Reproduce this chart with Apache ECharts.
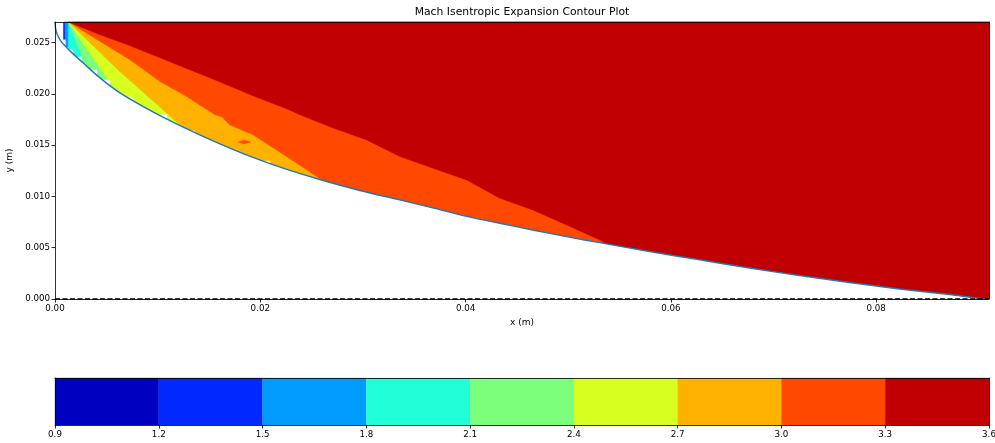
<!DOCTYPE html>
<html>
<head>
<meta charset="utf-8">
<script src="https://cdn.jsdelivr.net/npm/echarts@6/dist/echarts.min.js"></script>
<style>
  html, body { margin: 0; padding: 0; background: #fff; }
  #chart { width: 995px; height: 443px; }
</style>
</head>
<body>
<div id="chart"></div>
<script>
// Mach number contour levels and their fill colours (jet, 9 bands)
const levels = [0.9, 1.2, 1.5, 1.8, 2.1, 2.4, 2.7, 3.0, 3.3, 3.6];
const levelColors = ['#0000c0', '#0028ff', '#009cff', '#20ffd7', '#7bff7b', '#d7ff20', '#ffb100', '#ff4800', '#c00000'];

// Plot extents (m)
const xMax = 0.0910;
const yMax = 0.0270;
const xTicks = [0, 0.02, 0.04, 0.06, 0.08];
const yTicks = [0, 0.005, 0.010, 0.015, 0.020, 0.025];

// Expansion wall contour (x, y) in metres
const wall = [
  [0, 0.0270], [0.00005, 0.02643], [0.00019, 0.02585], [0.00049, 0.02526], [0.00097, 0.02468],
  [0.00166, 0.02399], [0.00273, 0.02302], [0.00438, 0.02155], [0.00633, 0.02009], [0.00954, 0.01824],
  [0.01285, 0.01658], [0.01607, 0.01512], [0.01928, 0.01380], [0.02259, 0.01263], [0.02580, 0.01165],
  [0.02970, 0.01058], [0.03359, 0.00966], [0.03681, 0.00888], [0.04012, 0.00805], [0.04333, 0.00738],
  [0.04654, 0.00673], [0.04985, 0.00608], [0.05307, 0.00549], [0.05794, 0.00463], [0.06281, 0.00382],
  [0.06768, 0.00302], [0.07254, 0.00229], [0.07741, 0.00161], [0.08228, 0.00098], [0.08715, 0.00044],
  [0.09056, 0]
];

// Lower edge of the region where M >= level (expansion fan from the corner)
const edgeM12 = [[0.00081, 0.0270], [0.00081, 0]];
const edgeM15 = [[0.00097, 0.0270], [0.00097, 0]];
const edgeM18 = [[0.00130, 0.0270], [0.00130, 0]];
const edgeM21 = [[0.00130, 0.0270], [0.00321, 0.02214], [0.00321, 0]];
const edgeM24 = [[0.00130, 0.0270], [0.00643, 0.01951], [0.00643, 0]];
const edgeM27 = [[0.00130, 0.0270], [0.00633, 0.02214], [0.01295, 0.01629], [0.01295, 0]];
const edgeM30 = [[0.00130, 0.0270], [0.00730, 0.02331], [0.01022, 0.02119], [0.01282, 0.01973],
  [0.01558, 0.01795], [0.01626, 0.01775], [0.01704, 0.01697], [0.01928, 0.01600], [0.02256, 0.01388],
  [0.02600, 0.01161], [0.02600, 0]];
const edgeM33 = [[0.00130, 0.0270], [0.00438, 0.02575], [0.00730, 0.02468], [0.01022, 0.02351],
  [0.01315, 0.02233], [0.01607, 0.02116], [0.01928, 0.01980], [0.02259, 0.01853], [0.02386, 0.01795],
  [0.02707, 0.01668], [0.03035, 0.01551], [0.03359, 0.01388], [0.03681, 0.01275], [0.04009, 0.01161],
  [0.04333, 0.00982], [0.04654, 0.00868], [0.04983, 0.00722], [0.05307, 0.00575], [0.05453, 0.00497],
  [0.05453, 0]];

// Small isolated pocket of M in 3.0-3.3
const pocketM30 = [[0.01782, 0.01531], [0.01840, 0.01551], [0.01909, 0.01531], [0.01840, 0.01512]];

// Uncovered grid cells next to the wall: [x0, x1, top y]
const gaps = [
  [0.00078, 0.00102, 0.02526], [0.00102, 0.00130, 0.02453], [0.00130, 0.00175, 0.02433],
  [0.00185, 0.00263, 0.02360], [0.00341, 0.00409, 0.02233], [0.00438, 0.00536, 0.02136],
  [0.00662, 0.00759, 0.01970], [0.00974, 0.01091, 0.01795], [0.01285, 0.01363, 0.01639],
  [0.01577, 0.01636, 0.01502], [0.01967, 0.02094, 0.01346]
];

const fontFamily = 'DejaVu Sans';
const txt = { color: '#000', fontFamily: fontFamily, fontSize: 8.7 };

// Draw list: level regions (low to high), the pocket, then uncovered cells
const layers = [
  { color: levelColors[1], poly: edgeM12 },
  { color: levelColors[2], poly: edgeM15 },
  { color: levelColors[3], poly: edgeM18 },
  { color: levelColors[4], poly: edgeM21 },
  { color: levelColors[5], poly: edgeM24 },
  { color: levelColors[6], poly: edgeM27 },
  { color: levelColors[7], poly: edgeM30 },
  { color: levelColors[8], poly: edgeM33 }
].map(l => ({ color: l.color, pts: l.poly.concat([[xMax, 0], [xMax, yMax]]) }));
layers.push({ color: levelColors[7], pts: pocketM30 });
gaps.forEach(g => layers.push({ color: '#ffffff', pts: [[g[0], 0], [g[0], g[2]], [g[1], g[2]], [g[1], 0]] }));

const bands = levelColors.map((c, i) => [levels[i], levels[i + 1], i]);

const chart = echarts.init(document.getElementById('chart'), null, { renderer: 'canvas' });

const frameLine = { show: true, onZero: false, lineStyle: { color: '#000', width: 0.8 } };
const tick = { show: true, length: 3.5, inside: false, lineStyle: { color: '#000', width: 0.8 } };
const bare = { axisLine: frameLine, axisTick: { show: false }, axisLabel: { show: false }, splitLine: { show: false } };

chart.setOption({
  animation: false,
  backgroundColor: '#fff',
  graphic: [{
    type: 'text', x: 522, y: 12.5,
    style: { text: 'Mach Isentropic Expansion Contour Plot', textAlign: 'center', textVerticalAlign: 'middle',
      fill: '#000', font: '10.8px "DejaVu Sans"' }
  }],
  grid: [
    { left: 55, right: 6, top: 22, height: 277, outerBoundsMode: 'none', containLabel: false },
    { left: 55, right: 6, top: 378, height: 47, outerBoundsMode: 'none', containLabel: false }
  ],
  xAxis: [
    { gridIndex: 0, type: 'value', min: 0, max: xMax, interval: 0.02, position: 'bottom', z: 10,
      axisLine: frameLine, axisTick: Object.assign({ customValues: xTicks }, tick),
      axisLabel: Object.assign({ customValues: xTicks, margin: 5, formatter: v => v.toFixed(2) }, txt),
      splitLine: { show: false },
      name: 'x (m)', nameLocation: 'middle', nameGap: 19.5,
      nameTextStyle: { color: '#000', fontFamily: fontFamily, fontSize: 9 } },
    Object.assign({ gridIndex: 0, type: 'value', min: 0, max: xMax, position: 'top', z: 10 }, bare),
    { gridIndex: 1, type: 'value', min: 0.9, max: 3.6, interval: 0.3, position: 'bottom', z: 10,
      axisLine: frameLine, axisTick: Object.assign({ customValues: levels }, tick),
      axisLabel: Object.assign({ customValues: levels, margin: 5, formatter: v => v.toFixed(1) }, txt),
      splitLine: { show: false } },
    Object.assign({ gridIndex: 1, type: 'value', min: 0.9, max: 3.6, position: 'top', z: 10 }, bare)
  ],
  yAxis: [
    { gridIndex: 0, type: 'value', min: 0, max: yMax, interval: 0.005, position: 'left', z: 10,
      axisLine: frameLine, axisTick: Object.assign({ customValues: yTicks }, tick),
      axisLabel: Object.assign({ customValues: yTicks, margin: 5, formatter: v => v.toFixed(3) }, txt),
      splitLine: { show: false },
      name: 'y (m)', nameLocation: 'middle', nameGap: 35.5, nameRotate: 90,
      nameTextStyle: { color: '#000', fontFamily: fontFamily, fontSize: 9 } },
    Object.assign({ gridIndex: 0, type: 'value', min: 0, max: yMax, position: 'right', z: 10 }, bare),
    Object.assign({ gridIndex: 1, type: 'value', min: 0, max: 1, position: 'left', z: 10 }, bare),
    Object.assign({ gridIndex: 1, type: 'value', min: 0, max: 1, position: 'right', z: 10 }, bare)
  ],
  series: [
    {
      type: 'custom', xAxisIndex: 0, yAxisIndex: 0, z: 2, clip: false, silent: true,
      data: layers.map((l, i) => [i, 0]),
      encode: { x: 0, y: 1 },
      renderItem: function (params, api) {
        const i = api.value(0);
        const layer = layers[i];
        return {
          type: 'polygon', z2: i,
          shape: { points: layer.pts.map(p => api.coord(p)) },
          style: { fill: layer.color, stroke: layer.color, lineWidth: 0.3 }
        };
      }
    },
    {
      // wall contour; the solid region beneath it is masked white
      type: 'line', xAxisIndex: 0, yAxisIndex: 0, z: 5, clip: false, silent: true,
      data: wall, showSymbol: false, smooth: 0.3,
      lineStyle: { color: '#1f77b4', width: 1.4 },
      areaStyle: { color: '#ffffff', opacity: 1, origin: 'start' }
    },
    {
      type: 'line', xAxisIndex: 0, yAxisIndex: 0, z: 6, clip: false, silent: true,
      data: [[0, 0], [xMax, 0]], showSymbol: false,
      lineStyle: { color: '#000', width: 1.3, type: [5, 2.5] }
    },
    {
      type: 'custom', xAxisIndex: 2, yAxisIndex: 2, z: 2, clip: false, silent: true,
      data: bands,
      encode: { x: [0, 1] },
      renderItem: function (params, api) {
        const p0 = api.coord([api.value(0), 1]);
        const p1 = api.coord([api.value(1), 0]);
        const c = levelColors[api.value(2)];
        return {
          type: 'rect',
          shape: { x: p0[0], y: p0[1], width: p1[0] - p0[0], height: p1[1] - p0[1] },
          style: { fill: c, stroke: c, lineWidth: 0.3 }
        };
      }
    }
  ]
});
</script>
</body>
</html>
